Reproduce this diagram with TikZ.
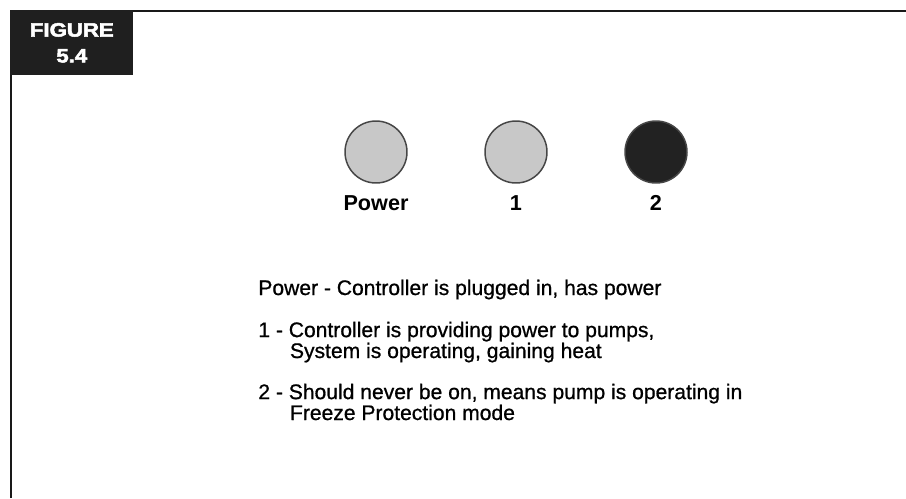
\documentclass[tikz,border=0pt]{standalone}
\usepackage{fontspec}
\setmainfont{Liberation Sans}
\newfontfamily\legendfont[FakeBold=0.8]{Liberation Sans}
\newfontfamily\heavyfont[FakeBold=2.5]{Liberation Sans Bold}
\usepackage{xcolor}
\usetikzlibrary{positioning}
\definecolor{lampoff}{RGB}{200,200,200}
\definecolor{lampon}{RGB}{34,34,34}
\definecolor{lampedge}{RGB}{70,70,70}
\tikzset{
    frameline/.style={line width=1.7pt, color=black!90},
    figbox/.style={rectangle, fill=black!88, text=white, align=center, inner sep=0pt, minimum width=2.46cm, minimum height=1.3cm, font=\fontsize{11}{14.7}\selectfont\heavyfont},
    lamp/.style={circle, draw=lampedge, line width=0.85pt, minimum size=1.24cm, inner sep=0pt},
    lamplabel/.style={font=\fontsize{12.3}{14}\selectfont\bfseries, inner sep=2pt, text height=1.6ex, text depth=0pt},
    desc/.style={anchor=base west, align=left, inner sep=0pt, font=\fontsize{12}{11.9}\selectfont\legendfont}
}

\begin{document}
\begin{tikzpicture}[x=0.02cm, y=-0.02cm]
    \useasboundingbox (0,0) rectangle (906,498);
    % frame
    \coordinate (bl) at (11,498);
    \coordinate (tr) at (906,11);
    \draw [frameline] (bl) |- (tr);
    \node (fig) [figbox, anchor=north west] at (10,10) {\scalebox{1.15}[1]{FIGURE}\\ \scalebox{1.15}[1]{5.4}};

    % indicator lamps
    \node (pw) [lamp, fill=lampoff] at (376,152) {};
    \node (one) [lamp, fill=lampoff] at (516,152) {};
    \node (two) [lamp, fill=lampon] at (656,152) {};

    \node (pwlabel) [lamplabel, below=0.16cm of pw] {Power};
    \node (onelabel) [lamplabel, below=0.16cm of one] {1};
    \node (twolabel) [lamplabel, below=0.16cm of two] {2};

    % legend (base = last line)
    \node (descpw) [desc] at (258,295) {Power - Controller is plugged in, has power};
    \node (descone) [desc] at (258,358) {1 - Controller is providing power to pumps,\\ \hspace*{18pt}System is operating, gaining heat};
    \node (desctwo) [desc] at (258,420) {2 - Should never be on, means pump is operating in\\ \hspace*{18pt}Freeze Protection mode};
\end{tikzpicture}
\end{document}
